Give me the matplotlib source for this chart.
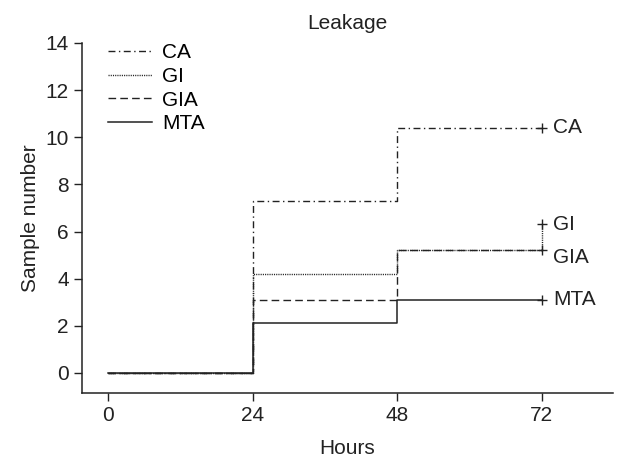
# Leakage step chart
import numpy as np
import matplotlib
matplotlib.use("Agg")
import matplotlib.pyplot as plt

# Data -----------------------------------------------------------
hours = [0, 24, 48, 72]
groups = ["CA", "GI", "GIA", "MTA"]
ca = [0, 7.3, 10.4, 10.4]
gi = [0, 4.2, 5.2, 6.3]
gia = [0, 3.1, 5.2, 5.2]
mta = [0, 2.1, 3.1, 3.1]
label_y = [10.4, 6.3, 4.9, 3.1]   # where the end labels sit
x_ticks = [0, 24, 48, 72]
y_ticks = [0, 2, 4, 6, 8, 10, 12, 14]

plt.rcParams['font.family'] = ['Liberation Sans', 'DejaVu Sans']
FS = 15

fig = plt.figure(figsize=(6.21, 4.62), dpi=100)
ax = fig.add_axes([82/621, (462-393)/462, (613-82)/621, (393-43)/462])

series = [ca, gi, gia, mta]
styles = [
    dict(dashes=(5, 2.5, 1, 2.5), lw=1.0),
    dict(dashes=(0.8, 0.8), lw=1.0),
    dict(dashes=(5.5, 3), lw=1.0),
    dict(linestyle='-', lw=1.1),
]

for name, vals, st in zip(groups, series, styles):
    ax.step(hours, vals, where='post', color='#222222', label=name, **st)
    # censor mark at the end
    ax.plot(hours[-1], vals[-1], marker='+', color='#222222', ms=7, mew=1.0)

for name, yv in zip(groups, label_y):
    ax.annotate(name, xy=(hours[-1], yv), xytext=(8, 0), textcoords='offset points',
                va='center', ha='left', fontsize=FS, color='#222222')

ax.set_xlim(-4.3, 83.8)
ax.set_ylim(-0.85, 14)
ax.set_xticks(x_ticks)
ax.set_yticks(y_ticks)
ax.tick_params(labelsize=FS, length=6, width=1.0, colors='#222222', direction='out')
for s in ['top', 'right']:
    ax.spines[s].set_visible(False)
for s in ['left', 'bottom']:
    ax.spines[s].set_linewidth(1.1)
    ax.spines[s].set_color('#222222')

ax.set_xlabel("Hours", fontsize=FS, color='#222222', labelpad=10)
ax.set_ylabel("Sample number", fontsize=FS, color='#222222', labelpad=4)
ax.set_title("Leakage", fontsize=FS, color='#222222', pad=10)

ax.legend(loc='upper left', bbox_to_anchor=(26/531, 1.0), frameon=False, fontsize=FS,
          handlelength=2.1, handletextpad=0.5, labelspacing=0.23, borderpad=0,
          borderaxespad=0)

fig.savefig("out.png", dpi=100)
